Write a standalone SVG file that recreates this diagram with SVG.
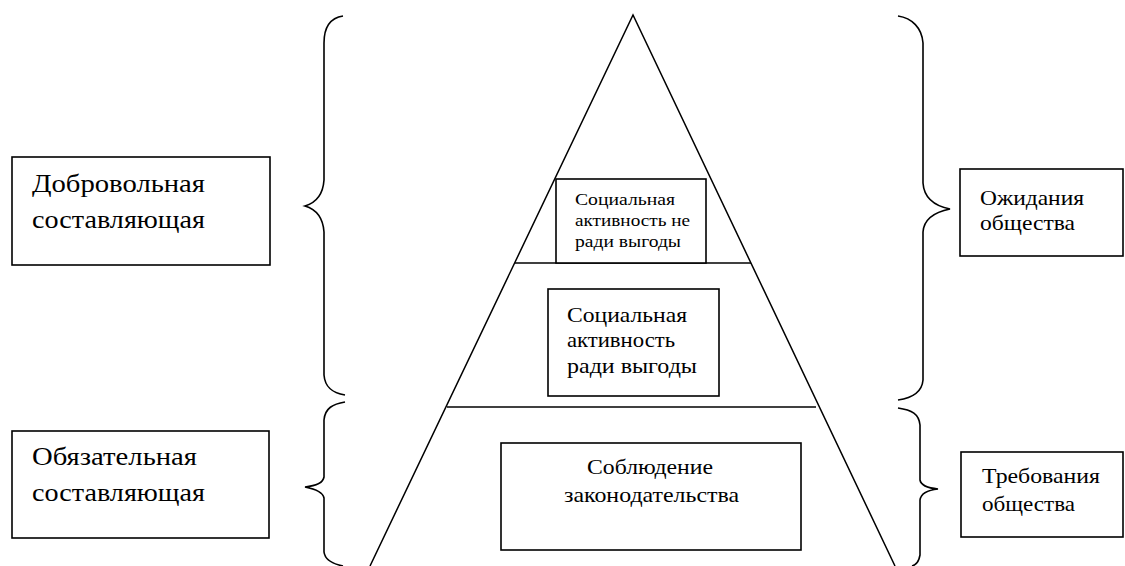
<svg xmlns="http://www.w3.org/2000/svg" width="1125" height="566" viewBox="0 0 1125 566">
<style>
.box{fill:#fff;stroke:#000;stroke-width:1.6}
.ln{fill:none;stroke:#000;stroke-width:1.5}
.br{fill:none;stroke:#000;stroke-width:1.6}
text{font-family:"Liberation Serif","DejaVu Serif",serif;fill:#000}
.big{font-size:25px}
.mid{font-size:21px}
.sm{font-size:17px}
</style>
<rect width="1125" height="566" fill="#fff"/>
<g id="pyramid">
<path class="ln" d="M370,566 L633,15 L895,566"/>
<line class="ln" x1="515" y1="263" x2="751" y2="263"/>
<line class="ln" x1="447" y1="407" x2="816" y2="407"/>
</g>
<g id="connectors">
<path class="br" d="M343,16 C330,18 324,28 324,43 L324,180 C323,195 315,203 305,206 C315,209 323,217 324,232 L324,375 C325,388 333,393 345,395"/>
<path class="br" d="M345,402 C333,404 325,408 324,420 L324,477 C323,483 315,486 305,487 C315,489 323,492 324,498 L324,552 C325,560 333,564 343,566"/>
<path class="br" d="M898,16 C912,18 922,28 923,43 L923,183 C924,198 935,206 950,209 C935,212 924,218 923,232 L923,380 C922,392 912,398 898,400"/>
<path class="br" d="M898,408 C912,410 919,414 920,425 L920,480 C921,486 928,488 938,489 C928,490 921,493 920,500 L920,555 C919,561 916,565 912,566"/>
</g>
<g id="voluntary">
<rect class="box" x="12" y="157" width="258" height="108"/>
<text class="big" x="32" y="192" textLength="173" lengthAdjust="spacingAndGlyphs">Добровольная</text>
<text class="big" x="32" y="228" textLength="173" lengthAdjust="spacingAndGlyphs">составляющая</text>
</g>
<g id="mandatory">
<rect class="box" x="12" y="431" width="257" height="107"/>
<text class="big" x="32" y="465" textLength="165" lengthAdjust="spacingAndGlyphs">Обязательная</text>
<text class="big" x="32" y="501" textLength="173" lengthAdjust="spacingAndGlyphs">составляющая</text>
</g>
<g id="nonprofit">
<rect class="box" x="556" y="179" width="150" height="84"/>
<text class="sm" x="575" y="205" textLength="100" lengthAdjust="spacingAndGlyphs">Социальная</text>
<text class="sm" x="575" y="226" textLength="115" lengthAdjust="spacingAndGlyphs">активность не</text>
<text class="sm" x="575" y="247" textLength="106" lengthAdjust="spacingAndGlyphs">ради выгоды</text>
</g>
<g id="profit">
<rect class="box" x="548" y="289" width="171" height="107"/>
<text class="mid" x="567" y="322" textLength="120" lengthAdjust="spacingAndGlyphs">Социальная</text>
<text class="mid" x="567" y="347" textLength="108" lengthAdjust="spacingAndGlyphs">активность</text>
<text class="mid" x="567" y="373" textLength="130" lengthAdjust="spacingAndGlyphs">ради выгоды</text>
</g>
<g id="law">
<rect class="box" x="501" y="443" width="300" height="107"/>
<text class="mid" x="587" y="474" textLength="126" lengthAdjust="spacingAndGlyphs">Соблюдение</text>
<text class="mid" x="564" y="502" textLength="175" lengthAdjust="spacingAndGlyphs">законодательства</text>
</g>
<g id="expectations">
<rect class="box" x="960" y="169" width="163" height="87"/>
<text class="mid" x="980" y="205" textLength="104" lengthAdjust="spacingAndGlyphs">Ожидания</text>
<text class="mid" x="980" y="230" textLength="95" lengthAdjust="spacingAndGlyphs">общества</text>
</g>
<g id="requirements">
<rect class="box" x="961" y="452" width="162" height="85"/>
<text class="mid" x="982" y="483" textLength="118" lengthAdjust="spacingAndGlyphs">Требования</text>
<text class="mid" x="982" y="511" textLength="93" lengthAdjust="spacingAndGlyphs">общества</text>
</g>
</svg>
